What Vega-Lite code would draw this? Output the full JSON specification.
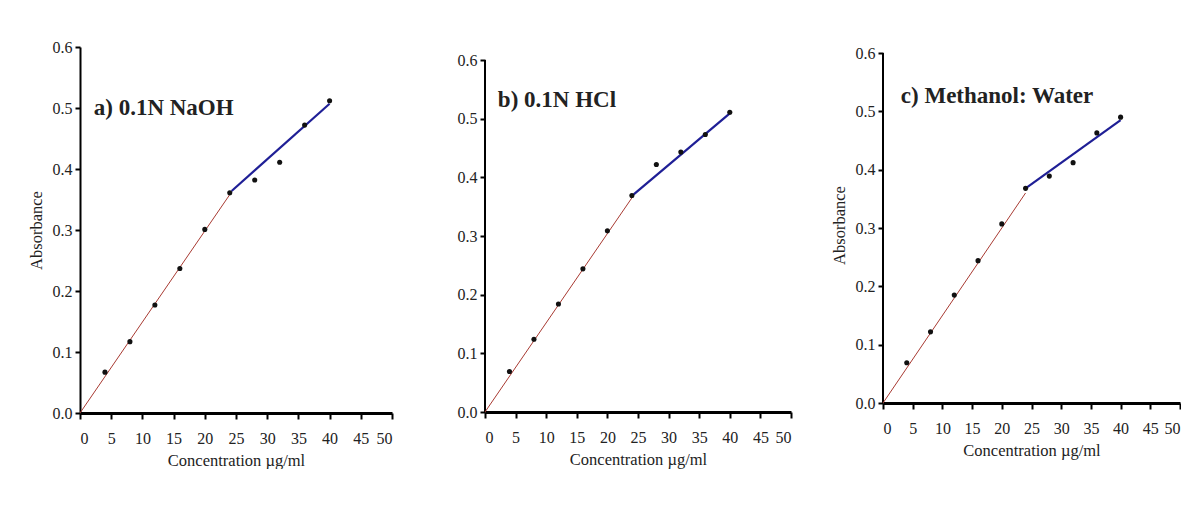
{
  "$schema": "https://vega.github.io/schema/vega-lite/v6.json",
  "background": "white",
  "padding": {"left": 28, "top": 39, "right": 0, "bottom": 0},
  "config": {
    "font": "Liberation Serif",
    "view": {"stroke": null},
    "axis": {
      "grid": false,
      "domainColor": "black",
      "tickColor": "black",
      "labelColor": "#222",
      "titleColor": "#222",
      "labelFont": "Liberation Serif",
      "titleFont": "Liberation Serif",
      "labelFontSize": 16,
      "titleFontSize": 16.5,
      "titleFontWeight": "normal",
      "tickSize": 5
    },
    "axisX": {"domainWidth": 3, "tickWidth": 2, "tickSize": 6, "labelPadding": 11, "titlePadding": 6, "labelAngle": 0},
    "axisY": {"domainWidth": 2, "tickWidth": 2, "labelPadding": 3, "titlePadding": 8}
  },
  "datasets": {
    "pts": [
      {"panel": "a", "conc": 4, "abs": 0.067}, {"panel": "a", "conc": 8, "abs": 0.117}, {"panel": "a", "conc": 12, "abs": 0.177},
      {"panel": "a", "conc": 16, "abs": 0.237}, {"panel": "a", "conc": 20, "abs": 0.301}, {"panel": "a", "conc": 24, "abs": 0.361},
      {"panel": "a", "conc": 28, "abs": 0.382}, {"panel": "a", "conc": 32, "abs": 0.411}, {"panel": "a", "conc": 36, "abs": 0.472},
      {"panel": "a", "conc": 40, "abs": 0.512},
      {"panel": "b", "conc": 4, "abs": 0.069}, {"panel": "b", "conc": 8, "abs": 0.124}, {"panel": "b", "conc": 12, "abs": 0.184},
      {"panel": "b", "conc": 16, "abs": 0.244}, {"panel": "b", "conc": 20, "abs": 0.309}, {"panel": "b", "conc": 24, "abs": 0.369},
      {"panel": "b", "conc": 28, "abs": 0.422}, {"panel": "b", "conc": 32, "abs": 0.443}, {"panel": "b", "conc": 36, "abs": 0.473},
      {"panel": "b", "conc": 40, "abs": 0.511},
      {"panel": "c", "conc": 4, "abs": 0.069}, {"panel": "c", "conc": 8, "abs": 0.122}, {"panel": "c", "conc": 12, "abs": 0.185},
      {"panel": "c", "conc": 16, "abs": 0.244}, {"panel": "c", "conc": 20, "abs": 0.307}, {"panel": "c", "conc": 24, "abs": 0.368},
      {"panel": "c", "conc": 28, "abs": 0.389}, {"panel": "c", "conc": 32, "abs": 0.412}, {"panel": "c", "conc": 36, "abs": 0.463},
      {"panel": "c", "conc": 40, "abs": 0.490}
    ],
    "fit": [
      {"panel": "a", "seg": "low", "conc": 0, "abs": 0}, {"panel": "a", "seg": "low", "conc": 24, "abs": 0.358},
      {"panel": "a", "seg": "high", "conc": 24.3, "abs": 0.364}, {"panel": "a", "seg": "high", "conc": 40, "abs": 0.507},
      {"panel": "b", "seg": "low", "conc": 0, "abs": 0}, {"panel": "b", "seg": "low", "conc": 24, "abs": 0.365},
      {"panel": "b", "seg": "high", "conc": 24.3, "abs": 0.371}, {"panel": "b", "seg": "high", "conc": 40, "abs": 0.509},
      {"panel": "c", "seg": "low", "conc": 0, "abs": 0}, {"panel": "c", "seg": "low", "conc": 24, "abs": 0.36},
      {"panel": "c", "seg": "high", "conc": 24, "abs": 0.368}, {"panel": "c", "seg": "high", "conc": 40, "abs": 0.485}
    ],
    "labels": [
      {"panel": "a", "conc": 2.2, "abs": 0.5, "text": "a) 0.1N NaOH"},
      {"panel": "b", "conc": 2.1, "abs": 0.532, "text": "b) 0.1N HCl"},
      {"panel": "c", "conc": 3.0, "abs": 0.526, "text": "c) Methanol: Water"}
    ],
    "yline": [{"conc": 0, "abs": 0, "abs_top": 0.6}]
  },
  "hconcat": [
    {
      "hconcat": [
        {
          "width": 312, "height": 366,
          "encoding": {
            "x": {"field": "conc", "type": "quantitative", "scale": {"domain": [0, 50], "nice": false}, "axis": {"values": [0,5,10,15,20,25,30,35,40,45,50], "title": "Concentration µg/ml"}},
            "y": {"field": "abs", "type": "quantitative", "scale": {"domain": [0, 0.6], "nice": false}, "axis": {"values": [0,0.1,0.2,0.3,0.4,0.5,0.6], "format": ".1f", "title": "Absorbance"}}
          },
          "layer": [
            {"data": {"name": "fit"}, "transform": [{"filter": "datum.panel == 'a'"}], "mark": {"type": "line"},
             "encoding": {"color": {"field": "seg", "type": "nominal", "scale": {"domain": ["low", "high"], "range": ["#a83a32", "#1f1f96"]}, "legend": null},
                          "strokeWidth": {"field": "seg", "type": "nominal", "scale": {"domain": ["low", "high"], "range": [1, 2.2]}, "legend": null}}},
            {"data": {"name": "pts"}, "transform": [{"filter": "datum.panel == 'a'"}], "mark": {"type": "point", "filled": true, "color": "#111", "size": 26, "opacity": 1}},
            {"data": {"name": "labels"}, "transform": [{"filter": "datum.panel == 'a'"}], "mark": {"type": "text", "align": "left", "baseline": "middle", "fontSize": 23, "fontWeight": "bold", "color": "#222"},
             "encoding": {"text": {"field": "text"}}}
          ]
        },
        {
          "width": 306, "height": 365,
          "encoding": {
            "x": {"field": "conc", "type": "quantitative", "scale": {"domain": [0, 50], "nice": false}, "axis": {"values": [0,5,10,15,20,25,30,35,40,45,50], "title": "Concentration µg/ml"}},
            "y": {"field": "abs", "type": "quantitative", "scale": {"domain": [0, 0.6222], "nice": false}, "axis": {"values": [0,0.1,0.2,0.3,0.4,0.5,0.6], "format": ".1f", "title": null, "domain": false}}
          },
          "layer": [
            {"data": {"name": "yline"}, "mark": {"type": "rule", "color": "black", "strokeWidth": 2}, "encoding": {"y2": {"field": "abs_top"}}},
            {"data": {"name": "fit"}, "transform": [{"filter": "datum.panel == 'b'"}], "mark": {"type": "line"},
             "encoding": {"color": {"field": "seg", "type": "nominal", "scale": {"domain": ["low", "high"], "range": ["#a83a32", "#1f1f96"]}, "legend": null},
                          "strokeWidth": {"field": "seg", "type": "nominal", "scale": {"domain": ["low", "high"], "range": [1, 2.2]}, "legend": null}}},
            {"data": {"name": "pts"}, "transform": [{"filter": "datum.panel == 'b'"}], "mark": {"type": "point", "filled": true, "color": "#111", "size": 26, "opacity": 1}},
            {"data": {"name": "labels"}, "transform": [{"filter": "datum.panel == 'b'"}], "mark": {"type": "text", "align": "left", "baseline": "middle", "fontSize": 23, "fontWeight": "bold", "color": "#222"},
             "encoding": {"text": {"field": "text"}}}
          ]
        }
      ],
      "spacing": 64
    },
    {
      "width": 297, "height": 356,
      "encoding": {
        "x": {"field": "conc", "type": "quantitative", "scale": {"domain": [0, 50], "nice": false}, "axis": {"values": [0,5,10,15,20,25,30,35,40,45,50], "title": "Concentration µg/ml"}},
        "y": {"field": "abs", "type": "quantitative", "scale": {"domain": [0, 0.6103], "nice": false}, "axis": {"values": [0,0.1,0.2,0.3,0.4,0.5,0.6], "format": ".1f", "title": "Absorbance", "domain": false}}
      },
      "layer": [
        {"data": {"name": "yline"}, "mark": {"type": "rule", "color": "black", "strokeWidth": 2}, "encoding": {"y2": {"field": "abs_top"}}},
        {"data": {"name": "fit"}, "transform": [{"filter": "datum.panel == 'c'"}], "mark": {"type": "line"},
         "encoding": {"color": {"field": "seg", "type": "nominal", "scale": {"domain": ["low", "high"], "range": ["#a83a32", "#1f1f96"]}, "legend": null},
                      "strokeWidth": {"field": "seg", "type": "nominal", "scale": {"domain": ["low", "high"], "range": [1, 2.2]}, "legend": null}}},
        {"data": {"name": "pts"}, "transform": [{"filter": "datum.panel == 'c'"}], "mark": {"type": "point", "filled": true, "color": "#111", "size": 26, "opacity": 1}},
        {"data": {"name": "labels"}, "transform": [{"filter": "datum.panel == 'c'"}], "mark": {"type": "text", "align": "left", "baseline": "middle", "fontSize": 23, "fontWeight": "bold", "color": "#222"},
         "encoding": {"text": {"field": "text"}}}
      ]
    }
  ],
  "spacing": 39
}
